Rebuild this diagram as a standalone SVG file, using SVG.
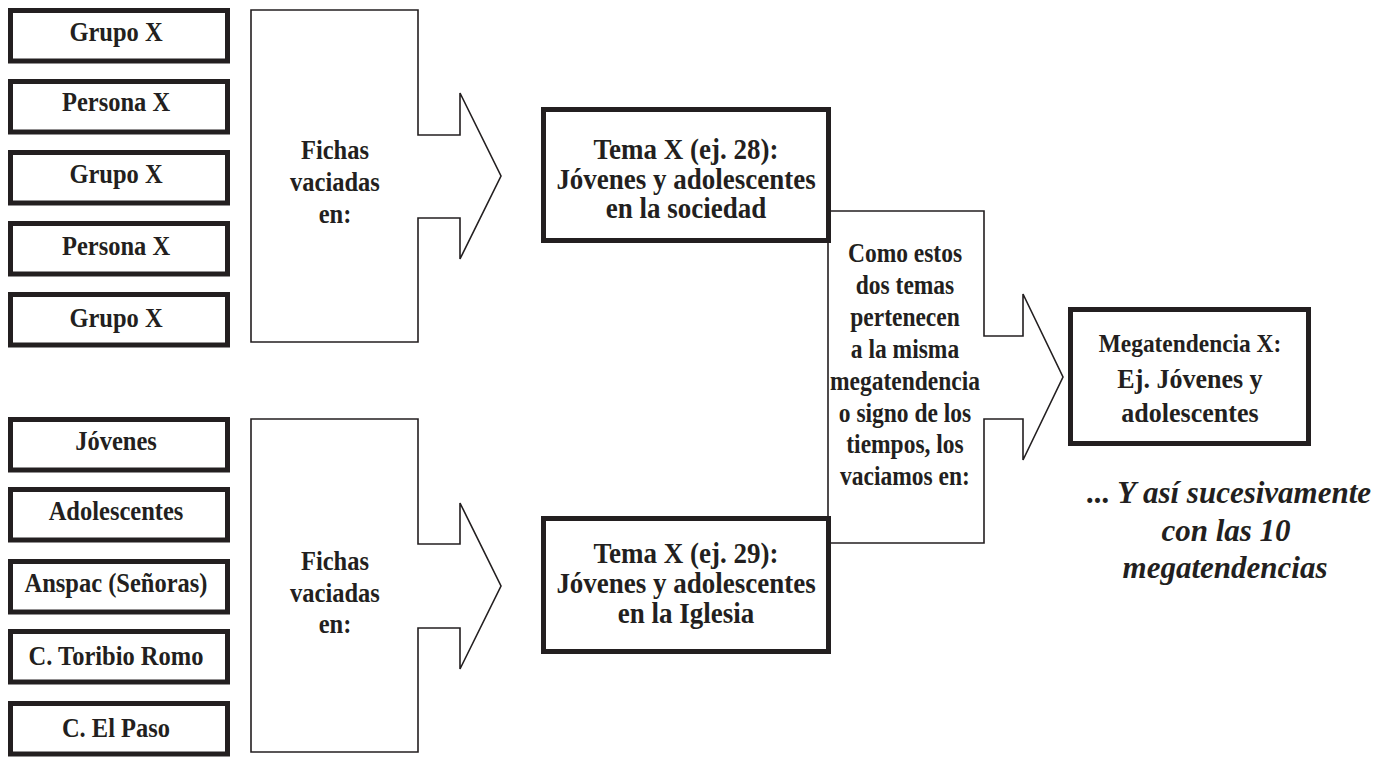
<svg xmlns="http://www.w3.org/2000/svg" width="1388" height="757" viewBox="0 0 1388 757">
<style>
  .bg { fill: #ffffff; }
  .box { fill: #ffffff; stroke: #231f20; stroke-width: 5; }
  .arrow { fill: #ffffff; stroke: #231f20; stroke-width: 1.6; stroke-linejoin: miter; }
  .t { font-family: "Liberation Serif", "Times New Roman", serif; font-weight: bold; fill: #231f20; text-anchor: middle; }
  .it { font-family: "Liberation Serif", "Times New Roman", serif; font-weight: bold; font-style: italic; fill: #231f20; text-anchor: middle; font-size: 31px; }
</style>
<rect class="bg" x="0" y="0" width="1388" height="757"/>

<g id="connectors">
  <g id="arrow-fichas-1">
    <polygon class="arrow" points="251,10 418,10 418,135 460,135 460,93 501,176 460,259 460,218 418,218 418,342 251,342"/>
    <g transform="translate(335,0) scale(0.875,1)">
      <text class="t" font-size="28" x="0" y="159">Fichas</text>
      <text class="t" font-size="28" x="0" y="191">vaciadas</text>
      <text class="t" font-size="28" x="0" y="223">en:</text>
    </g>
  </g>
  <g id="arrow-fichas-2">
    <polygon class="arrow" points="251,419 418,419 418,544 460,544 460,503 501,586 460,669 460,628 418,628 418,752 251,752"/>
    <g transform="translate(335,0) scale(0.875,1)">
      <text class="t" font-size="28" x="0" y="570">Fichas</text>
      <text class="t" font-size="28" x="0" y="602">vaciadas</text>
      <text class="t" font-size="28" x="0" y="633">en:</text>
    </g>
  </g>
  <g id="arrow-como">
    <polygon class="arrow" points="828,211 984,211 984,336 1023,336 1023,294 1063,377 1023,460 1023,419 984,419 984,543 828,543"/>
    <g transform="translate(905,0) scale(0.87,1)">
      <text class="t" font-size="27" x="0" y="262">Como estos</text>
      <text class="t" font-size="27" x="0" y="294">dos temas</text>
      <text class="t" font-size="27" x="0" y="326">pertenecen</text>
      <text class="t" font-size="27" x="0" y="358">a la misma</text>
      <text class="t" font-size="27" x="0" y="390">megatendencia</text>
      <text class="t" font-size="27" x="0" y="422">o signo de los</text>
      <text class="t" font-size="27" x="0" y="453">tiempos, los</text>
      <text class="t" font-size="27" x="0" y="485">vaciamos en:</text>
    </g>
  </g>
</g>

<g id="src-grupo-1">
  <rect class="box" x="10.5" y="10.5" width="217" height="50.5"/>
  <text class="t" font-size="28" transform="translate(116,41) scale(0.875,1)">Grupo X</text>
</g>
<g id="src-persona-1">
  <rect class="box" x="10.5" y="81.5" width="217" height="50.5"/>
  <text class="t" font-size="28" transform="translate(116,111) scale(0.875,1)">Persona X</text>
</g>
<g id="src-grupo-2">
  <rect class="box" x="10.5" y="152.5" width="217" height="50.5"/>
  <text class="t" font-size="28" transform="translate(116,183) scale(0.875,1)">Grupo X</text>
</g>
<g id="src-persona-2">
  <rect class="box" x="10.5" y="223.5" width="217" height="50.5"/>
  <text class="t" font-size="28" transform="translate(116,255) scale(0.875,1)">Persona X</text>
</g>
<g id="src-grupo-3">
  <rect class="box" x="10.5" y="294.5" width="217" height="50.5"/>
  <text class="t" font-size="28" transform="translate(116,327) scale(0.875,1)">Grupo X</text>
</g>

<g id="src-jovenes">
  <rect class="box" x="10.5" y="419.5" width="217" height="50.5"/>
  <text class="t" font-size="28" transform="translate(116,450) scale(0.875,1)">Jóvenes</text>
</g>
<g id="src-adolescentes">
  <rect class="box" x="10.5" y="489.5" width="217" height="50.5"/>
  <text class="t" font-size="28" transform="translate(116,520) scale(0.875,1)">Adolescentes</text>
</g>
<g id="src-anspac">
  <rect class="box" x="10.5" y="561.5" width="217" height="50.5"/>
  <text class="t" font-size="28" transform="translate(116,592) scale(0.875,1)">Anspac (Señoras)</text>
</g>
<g id="src-toribio">
  <rect class="box" x="10.5" y="631.5" width="217" height="50.5"/>
  <text class="t" font-size="28" transform="translate(116,665) scale(0.875,1)">C. Toribio Romo</text>
</g>
<g id="src-elpaso">
  <rect class="box" x="10.5" y="703.5" width="217" height="50.5"/>
  <text class="t" font-size="28" transform="translate(116,737) scale(0.875,1)">C. El Paso</text>
</g>

<g id="tema-28">
  <rect class="box" x="543.5" y="109.5" width="285" height="131"/>
  <g transform="translate(686,0) scale(0.9,1)">
    <text class="t" font-size="30" x="0" y="159.5">Tema X (ej. 28):</text>
    <text class="t" font-size="30" x="0" y="189">Jóvenes y adolescentes</text>
    <text class="t" font-size="30" x="0" y="218.5">en la sociedad</text>
  </g>
</g>
<g id="tema-29">
  <rect class="box" x="543.5" y="518.5" width="285" height="133"/>
  <g transform="translate(686,0) scale(0.9,1)">
    <text class="t" font-size="30" x="0" y="563.5">Tema X (ej. 29):</text>
    <text class="t" font-size="30" x="0" y="593.5">Jóvenes y adolescentes</text>
    <text class="t" font-size="30" x="0" y="623.5">en la Iglesia</text>
  </g>
</g>

<g id="megatendencia">
  <rect class="box" x="1070.5" y="309.5" width="238" height="134"/>
  <text class="t" font-size="26" transform="translate(1190,352) scale(0.9,1)">Megatendencia X:</text>
  <text class="t" font-size="28" transform="translate(1190,388) scale(0.93,1)">Ej. Jóvenes y</text>
  <text class="t" font-size="28" transform="translate(1190,422) scale(0.93,1)">adolescentes</text>
</g>

<g id="nota">
  <text class="it" x="1229" y="503">... Y así sucesivamente</text>
  <text class="it" x="1226" y="541">con las 10</text>
  <text class="it" x="1225" y="578">megatendencias</text>
</g>
</svg>
